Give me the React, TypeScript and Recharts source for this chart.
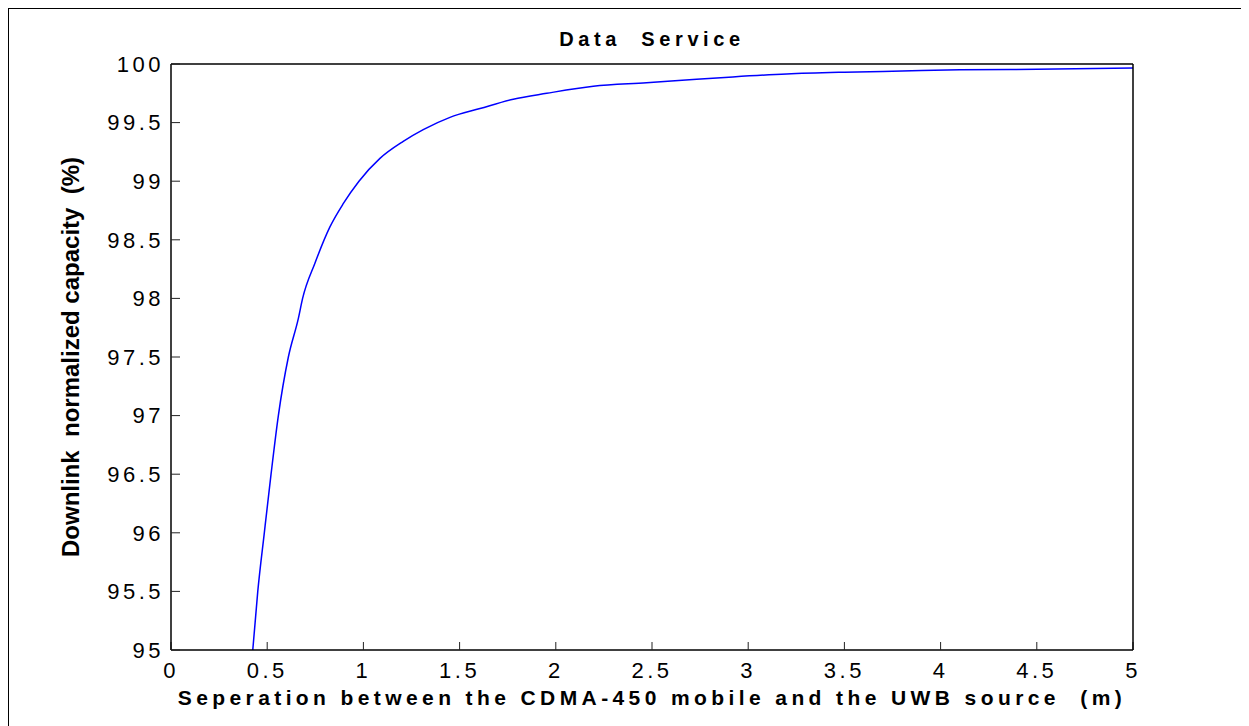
import React from 'react'
import { LineChart, Line, XAxis, YAxis, Label } from 'recharts'

// separation (m)
const separation = [
  0.425, 0.451, 0.485, 0.52, 0.558, 0.61, 0.662, 0.684, 0.748, 0.826, 0.896, 0.977, 1.086, 1.207, 1.311,
  1.45, 1.606, 1.779, 1.953, 2.195, 2.472, 2.732, 2.92, 3.2, 3.5, 3.8, 4.1, 4.5, 5.0,
]
// downlink normalized capacity (%)
const capacity = [
  95.0, 95.5, 96.0, 96.5, 97.0, 97.5, 97.83, 98.0, 98.3, 98.61, 98.81, 99.0, 99.195, 99.34, 99.44,
  99.545, 99.62, 99.7, 99.75, 99.81, 99.84, 99.87, 99.89, 99.915, 99.93, 99.94, 99.95, 99.955, 99.965,
]

const xTicks = [0, 0.5, 1, 1.5, 2, 2.5, 3, 3.5, 4, 4.5, 5]
const yTicks = [95, 95.5, 96, 96.5, 97, 97.5, 98, 98.5, 99, 99.5, 100]

const data = separation.map((s, i) => ({ s, c: capacity[i] }))

// Recharts Text collapses runs of spaces, so the wide gaps use a no-break space
const NB = '\u00A0'
const FONT = '"Liberation Sans", Arial, Helvetica, sans-serif'
const tickStyle = { fontSize: 22, fill: '#000', fontFamily: FONT, letterSpacing: 3.5 }
const axisLine = { stroke: '#000', strokeWidth: 1.5 }
const tickLine = { stroke: '#222', strokeWidth: 1 }

export default function App() {
  return (
    <div style={{ width: 1240, height: 717, borderTop: '1px solid #000', borderLeft: '1px solid #000', background: '#fff' }}>
      <LineChart width={1240} height={717} data={data} margin={{ top: 54, right: 115, left: 52, bottom: 16 }}>
        <XAxis
          dataKey="s"
          type="number"
          domain={[0, 5]}
          ticks={xTicks}
          allowDataOverflow
          height={60}
          tickSize={-8}
          tickMargin={20}
          tick={tickStyle}
          axisLine={axisLine}
          tickLine={tickLine}
        >
          <Label
            value={`Seperation between the CDMA-450 mobile and the UWB source ${NB}(m)`}
            position="insideBottom"
            offset={5}
            style={{ fontSize: 21, fontWeight: 'bold', fill: '#000', fontFamily: FONT, letterSpacing: 4.4 }}
          />
        </XAxis>
        <XAxis
          xAxisId="top"
          orientation="top"
          dataKey="s"
          type="number"
          domain={[0, 5]}
          ticks={xTicks}
          allowDataOverflow
          height={1}
          tickSize={-7}
          tick={false}
          axisLine={axisLine}
          tickLine={tickLine}
        >
          <Label
            value={`Data ${NB}Service`}
            position="top"
            offset={17}
            style={{ fontSize: 20, fontWeight: 'bold', fill: '#000', fontFamily: FONT, letterSpacing: 4.6 }}
          />
        </XAxis>
        <YAxis
          type="number"
          domain={[95, 100]}
          ticks={yTicks}
          allowDataOverflow
          width={110}
          tickSize={-9}
          tickMargin={16}
          tick={tickStyle}
          axisLine={axisLine}
          tickLine={tickLine}
        >
          <Label
            value={`Downlink ${NB}normalized capacity ${NB}(%)`}
            angle={-90}
            position="insideLeft"
            offset={9}
            style={{ textAnchor: 'middle', fontSize: 24, fontWeight: 'bold', fill: '#000', fontFamily: FONT }}
          />
        </YAxis>
        <YAxis
          yAxisId="right"
          orientation="right"
          type="number"
          domain={[95, 100]}
          ticks={yTicks}
          allowDataOverflow
          width={1}
          tickSize={-9}
          tick={false}
          axisLine={axisLine}
          tickLine={tickLine}
        />
        <Line
          type="monotone"
          dataKey="c"
          stroke="#0000ff"
          strokeWidth={1.5}
          dot={false}
          activeDot={false}
          isAnimationActive={false}
        />
      </LineChart>
    </div>
  )
}
